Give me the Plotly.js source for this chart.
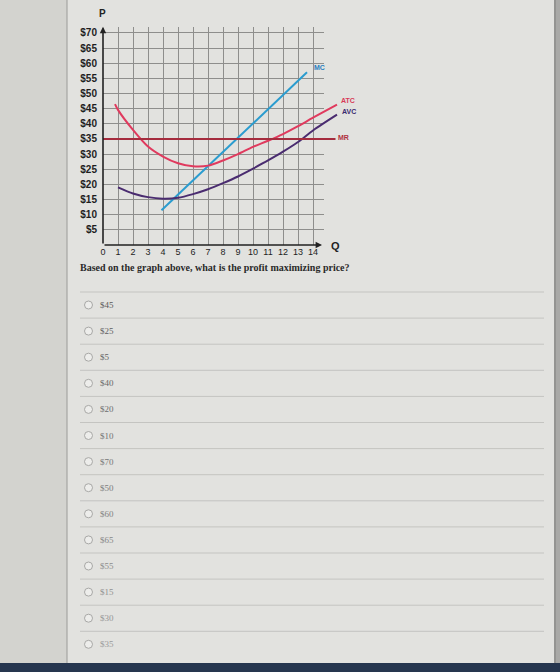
<!DOCTYPE html>
<html>
<head>
<meta charset="utf-8">
<script src="https://cdn.plot.ly/plotly-3.0.1.min.js"></script>
<style>html,body{margin:0;padding:0;background:#e2e2df;}#chart{width:560px;height:672px;}</style>
</head>
<body>
<div id="chart"></div>
<script>
// ---- data ----
const qTicks = [0,1,2,3,4,5,6,7,8,9,10,11,12,13,14];
const pTicks = [5,10,15,20,25,30,35,40,45,50,55,60,65,70];
const pTickLabels = ["$5","$10","$15","$20","$25","$30","$35","$40","$45","$50","$55","$60","$65","$70"];

const mcQ = [3.9, 13.6];
const mcP = [11.5, 57];

const atcQ = [0.8, 1, 2, 3, 4, 5, 6, 7, 8, 9, 10, 11, 12, 13, 14, 15.6];
const atcP = [46.5, 44.6, 38, 32.5, 29.2, 27, 26, 26.2, 27.9, 30, 32.4, 34.4, 36.6, 39.2, 42, 46.3];

const avcQ = [1, 2, 3, 4, 5, 6, 7, 8, 9, 10, 11, 12, 13, 14, 15.6];
const avcP = [19, 17, 15.8, 15.3, 15.6, 16.8, 18.4, 20.4, 22.6, 25.2, 27.9, 30.8, 34, 37.8, 43];

const mrQ = [0, 15.5];
const mrP = [35, 35];

const question = "Based on the graph above, what is the profit maximizing price?";
const options = ["$45","$25","$5","$40","$20","$10","$70","$50","$60","$65","$55","$15","$30","$35"];

// ---- layout helpers (pixels -> paper) ----
const W = 560, H = 672;
const px = x => x / W;
const py = y => 1 - y / H;
const X0 = 103, XU = 15;          // Q=0 pixel, px per unit
const Y0 = 245, YU = 3.03;        // P=0 pixel, px per $
const yDom = [py(Y0), py(Y0 - 72 * YU)];

const traces = [
  {x:[0], y:[0], xaxis:'x', yaxis:'y', mode:'markers', marker:{opacity:0}, hoverinfo:'skip', showlegend:false},
  {x:mcQ, y:mcP, xaxis:'x2', yaxis:'y2', mode:'lines', line:{color:'#2a9ccf', width:2}, name:'MC'},
  {x:atcQ, y:atcP, xaxis:'x2', yaxis:'y2', mode:'lines', line:{color:'#e03a5e', width:2, shape:'spline', smoothing:0.8}, name:'ATC'},
  {x:avcQ, y:avcP, xaxis:'x2', yaxis:'y2', mode:'lines', line:{color:'#4a2c70', width:2, shape:'spline', smoothing:0.8}, name:'AVC'},
  {x:mrQ, y:mrP, xaxis:'x2', yaxis:'y2', mode:'lines', line:{color:'#a52c3e', width:2}, name:'MR'}
];

const shapes = [];
const annotations = [];

// page backdrop
shapes.push({type:'rect', xref:'paper', yref:'paper', x0:0, x1:px(67), y0:0, y1:1, fillcolor:'#d3d3cf', line:{width:0}, layer:'below'});
shapes.push({type:'rect', xref:'paper', yref:'paper', x0:px(556), x1:1, y0:0, y1:1, fillcolor:'#a9a9a7', line:{width:0}, layer:'below'});
shapes.push({type:'line', xref:'paper', yref:'paper', x0:px(67), x1:px(67), y0:0, y1:1, line:{color:'#9a9a98', width:1}});
shapes.push({type:'line', xref:'paper', yref:'paper', x0:px(555), x1:px(555), y0:0, y1:1, line:{color:'#7a7a78', width:1.5}});
shapes.push({type:'rect', xref:'paper', yref:'paper', x0:0, x1:1, y0:0, y1:py(663), fillcolor:'#26364f', line:{width:0}});

// option rows
const optY0 = 305, optStep = 26.1;
options.forEach((o, i) => {
  const y = optY0 + i * optStep;
  shapes.push({type:'line', xref:'paper', yref:'paper', x0:px(80), x1:px(544), y0:py(y - 13), y1:py(y - 13), line:{color:'#c4c4c1', width:1}});
  shapes.push({type:'circle', xref:'paper', yref:'paper', x0:px(84.5), x1:px(92.5), y0:py(y + 4), y1:py(y - 4), line:{color:'#a8a8a6', width:1}, fillcolor:'#ededeb'});
  const shade = Math.round(90 + i * 5);
  annotations.push({xref:'paper', yref:'paper', x:px(98), y:py(y), xanchor:'left', yanchor:'middle', showarrow:false,
    text:o, font:{family:'Liberation Serif, Times New Roman, serif', size:9, color:'rgb('+shade+','+shade+','+shade+')'}});
});

// question text
annotations.push({xref:'paper', yref:'paper', x:px(78), y:py(267), xanchor:'left', yanchor:'middle', showarrow:false,
  text:question, font:{family:'Liberation Serif, Times New Roman, serif', size:10, color:'#2a2a2a', weight:'bold'}});

// axis labels
annotations.push({xref:'paper', yref:'paper', x:px(102), y:py(13), xanchor:'center', yanchor:'middle', showarrow:false,
  text:'P', font:{family:'Liberation Sans, Arial, sans-serif', size:10, color:'#222', weight:'bold'}});
annotations.push({xref:'paper', yref:'paper', x:px(335), y:py(246), xanchor:'center', yanchor:'middle', showarrow:false,
  text:'Q', font:{family:'Liberation Sans, Arial, sans-serif', size:11, color:'#222', weight:'bold'}});

// axis arrows
annotations.push({xref:'x2', yref:'y2', x:14.6, y:0, axref:'x2', ayref:'y2', ax:0, ay:0, text:'', showarrow:true,
  arrowhead:2, arrowsize:0.8, arrowwidth:1.6, arrowcolor:'#222'});
annotations.push({xref:'x2', yref:'y2', x:0, y:72, axref:'x2', ayref:'y2', ax:0, ay:0, text:'', showarrow:true,
  arrowhead:2, arrowsize:0.8, arrowwidth:1.6, arrowcolor:'#222'});

// curve labels
const lab = (t, x, y, c) => annotations.push({xref:'x2', yref:'y2', x:x, y:y, xanchor:'left', yanchor:'middle', showarrow:false,
  text:t, font:{family:'Liberation Sans Narrow, Liberation Sans, Arial, sans-serif', size:7, color:c, weight:'bold'}});
lab('MC', mcQ[1] + 0.3, mcP[1] + 1.5, '#2a7fc0');
lab('ATC', atcQ[atcQ.length-1] + 0.1, atcP[atcP.length-1] + 1.5, '#d83a58');
lab('AVC', avcQ[avcQ.length-1] + 0.2, avcP[avcP.length-1] + 1, '#3a2a70');
lab('MR', mrQ[1], mrP[0] + 0.6, '#b03040');

const tickFont = {family:'Liberation Sans Narrow, Liberation Sans, Arial, sans-serif', size:10, color:'#1e1e1e', weight:'bold'};

const layout = {
  width: W, height: H,
  margin:{l:0, r:0, t:0, b:0, pad:0},
  paper_bgcolor:'#e2e2df',
  plot_bgcolor:'rgba(0,0,0,0)',
  showlegend:false,
  xaxis:{domain:[px(X0), px(X0 + 14.7 * XU)], range:[0, 14.7], anchor:'y',
    showgrid:true, gridcolor:'#8e8e8c', gridwidth:1, tickvals:qTicks, ticktext:qTicks.map(String),
    ticks:'', zeroline:false, showline:false, tickfont:{family:'Liberation Sans, Arial, sans-serif', size:9, color:'#1e1e1e'}, fixedrange:true},
  yaxis:{domain:yDom, range:[0, 72], anchor:'x',
    showgrid:true, gridcolor:'#8e8e8c', gridwidth:1, tickvals:pTicks, ticktext:pTickLabels, ticklabelstandoff:5,
    ticks:'', zeroline:false, showline:false, tickfont:tickFont, fixedrange:true},
  xaxis2:{domain:[px(X0), px(X0 + 16.5 * XU)], range:[0, 16.5], anchor:'y2',
    showgrid:false, showticklabels:false, zeroline:false, showline:false, fixedrange:true},
  yaxis2:{domain:yDom, range:[0, 72], anchor:'x2',
    showgrid:false, showticklabels:false, zeroline:false, showline:false, fixedrange:true},
  shapes: shapes,
  annotations: annotations
};

Plotly.newPlot('chart', traces, layout, {staticPlot:true, displayModeBar:false});
</script>
</body>
</html>
